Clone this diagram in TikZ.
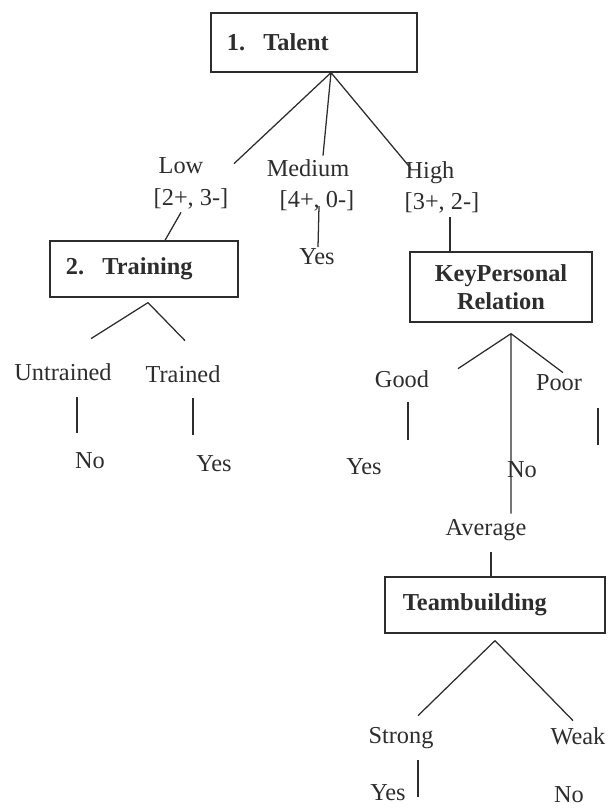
\documentclass[tikz,border=0pt]{standalone}
\usepackage{fontspec}
\setmainfont{Liberation Serif}
\usetikzlibrary{positioning,calc}
\definecolor{ink}{RGB}{45,45,45}

\begin{document}
\begin{tikzpicture}[
  x=0.025cm, y=-0.025cm,
  box/.style={rectangle, draw=ink, line width=0.9pt, inner xsep=0.4cm, inner ysep=0pt, text=ink, font=\fontsize{17.3}{20}\selectfont\bfseries},
  lbl/.style={inner sep=0pt, text height=12pt, text depth=3.5pt, text=ink, font=\fontsize{17.3}{20}\selectfont},
  edge/.style={draw=ink, line width=0.9pt}
]
  \useasboundingbox (0,0) rectangle (607,808);
  % decision boxes
  \node[box, text width=4.35cm, minimum height=1.475cm, align=left] (talent) at (314,42.5) {1.\hspace{0.75em}Talent};
  \node[box, text width=3.9cm, minimum height=1.4cm, align=left] (training) at (144,269) {2.\hspace{0.75em}Training};
  \node[box, text width=3.75cm, minimum height=1.75cm, align=center] (kpr) at (501,287) {KeyPersonal\\Relation};
  \node[box, inner xsep=0.45cm, text width=4.6cm, minimum height=1.4cm, align=left] (team) at (495,605) {Teambuilding};
  % branch labels
  \node[lbl] (low) at (181,168) {Low};
  \node[lbl] (lowcnt) at (191,200) {[2+, 3-]};
  \node[lbl] (med) at (308,171) {Medium};
  \node[lbl] (medcnt) at (317,202) {[4+, 0-]};
  \node[lbl] (medyes) at (317,259) {Yes};
  \node[lbl] (high) at (430,173) {High};
  \node[lbl] (highcnt) at (442,204) {[3+, 2-]};
  \node[lbl] (untr) at (63,375) {Untrained};
  \node[lbl] (trnd) at (183,377) {Trained};
  \node[lbl] (untrno) at (90,463) {No};
  \node[lbl] (trndyes) at (214,466) {Yes};
  \node[lbl] (good) at (402,382) {Good};
  \node[lbl] (poor) at (559,385) {Poor};
  \node[lbl] (goodyes) at (364,469) {Yes};
  \node[lbl] (avgno) at (522,472) {No};
  \node[lbl] (avg) at (486,530) {Average};
  \node[lbl] (strong) at (401,738) {Strong};
  \node[lbl] (weak) at (578,739) {Weak};
  \node[lbl] (strongyes) at (388,795) {Yes};
  \node[lbl] (weakno) at (569,797) {No};
  % talent splits
  \draw[edge] (talent.south) ++(17,0) coordinate (tapex) -- ++(-97,91)
    (tapex) -- ++(-8,83)
    (tapex) -- ++(80,96);
  \draw[edge] (training.north) ++(21,0) -- ++(16,-28);
  \draw[edge] (medcnt.south) ++(2,-7) -- ++(-1,41);
  \draw[edge] (kpr.north) ++(-51,0) -- ++(0,-34);
  % training splits
  \draw[edge] (training.south) ++(4,5) coordinate (trapex) -- ++(-57,36)
    (trapex) -- ++(37,38);
  \draw[edge] (untr.south) ++(14,11) -- ++(0,36);
  \draw[edge] (trnd.south) ++(10,10) -- ++(0,37);
  % key personal relation splits
  \draw[edge] (kpr.south) ++(10,11) coordinate (kapex) -- ++(-53,35)
    (kapex) -- ++(52,39)
    (kapex) -- ++(0,180);
  \draw[edge] (good.south) ++(6,9) -- ++(0,38);
  \draw[edge] (poor.south) ++(39,12) -- ++(0,37);
  \draw[edge] (team.north) ++(-4,0) -- ++(0,-24);
  % teambuilding splits
  \draw[edge] (team.south) ++(0,7) coordinate (tmapex) -- ++(-77,75)
    (tmapex) -- ++(78,80);
  \draw[edge] (strong.south) ++(17,11) -- ++(0,37);
\end{tikzpicture}
\end{document}
